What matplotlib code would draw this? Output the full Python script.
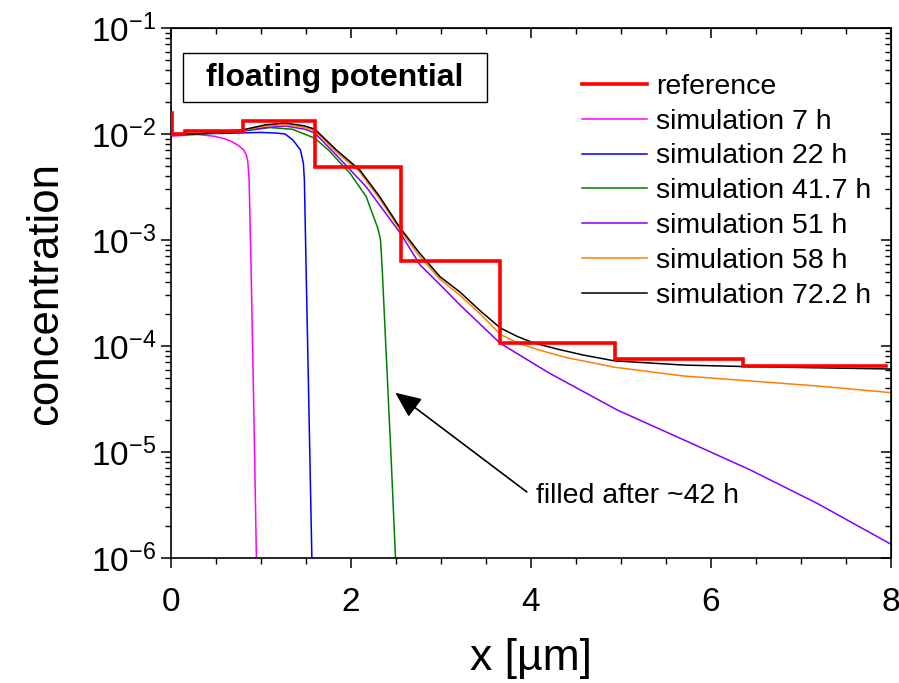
import matplotlib
matplotlib.use("Agg")
import matplotlib.pyplot as plt
import numpy as np
from matplotlib.patches import Rectangle
from matplotlib.ticker import LogLocator, LogFormatterMathtext, MultipleLocator, NullFormatter

plt.rcParams["font.family"] = ["Liberation Sans", "DejaVu Sans"]
plt.rcParams["mathtext.fontset"] = "custom"
plt.rcParams["mathtext.rm"] = "Liberation Sans"
plt.rcParams["mathtext.default"] = "regular"
plt.rcParams["axes.unicode_minus"] = False

# ---------- data ----------

# reference profile: step edges in x [um] and the level on each step
ref_edges = [0.01, 0.16, 0.8, 1.6, 2.556, 3.66, 4.93, 6.36, 7.95]
ref_levels = [1.01e-2, 1.07e-2, 1.33e-2, 4.86e-3, 6.33e-4, 1.06e-4, 7.48e-5, 6.52e-5]
ref_spike = 1.57e-2

x_7h = [0.0, 0.3, 0.49, 0.6, 0.68, 0.75, 0.81, 0.84, 0.855, 0.87, 0.895, 0.922, 0.951]
c_7h = [9.55e-3, 9.9e-3, 9.5e-3, 9.0e-3, 8.45e-3, 7.8e-3, 7.06e-3, 6.3e-3, 5.5e-3,
        3.68e-3, 3.98e-4, 2.51e-5, 1.0e-6]

x_22h = [0.0, 0.5, 1.0, 1.18, 1.27, 1.36, 1.44, 1.473, 1.484, 1.506, 1.53, 1.567]
c_22h = [1.0e-2, 1.01e-2, 1.035e-2, 1.02e-2, 1.0e-2, 8.71e-3, 7.08e-3, 5.28e-3,
         3.68e-3, 3.98e-4, 3.98e-5, 1.0e-6]

x_41h = [0.0, 0.31, 0.79, 1.10, 1.35, 1.60, 1.75, 1.99, 2.17, 2.30, 2.33, 2.35,
         2.40, 2.45, 2.496]
c_41h = [1.0e-2, 1.0e-2, 1.06e-2, 1.15e-2, 1.11e-2, 9.12e-3, 7.08e-3, 4.27e-3,
         2.57e-3, 1.29e-3, 1.0e-3, 5.0e-4, 6.3e-5, 7.9e-6, 1.0e-6]

x_51h = [0.0, 0.31, 0.79, 1.05, 1.27, 1.49, 1.60, 1.84, 2.17, 2.55, 2.77, 3.0,
         3.21, 3.66, 4.21, 4.96, 5.70, 6.44, 7.18, 8.0]
c_51h = [1.0e-2, 1.0e-2, 1.07e-2, 1.15e-2, 1.19e-2, 1.11e-2, 1.02e-2, 6.31e-3,
         3.18e-3, 1.16e-3, 5.81e-4, 3.72e-4, 2.45e-4, 1.06e-4, 5.52e-5, 2.49e-5,
         1.30e-5, 6.76e-6, 3.28e-6, 1.35e-6]

x_58h = [0.0, 0.31, 0.79, 1.05, 1.27, 1.49, 1.60, 1.84, 2.10, 2.32, 2.55, 2.77,
         2.99, 3.21, 3.44, 3.66, 3.85, 4.10, 4.40, 4.93, 5.70, 6.44, 7.18, 8.0]
c_58h = [1.0e-2, 1.0e-2, 1.08e-2, 1.19e-2, 1.23e-2, 1.15e-2, 1.07e-2, 6.76e-3,
         4.37e-3, 2.45e-3, 1.23e-3, 6.92e-4, 4.27e-4, 3.02e-4, 2.0e-4, 1.29e-4,
         1.07e-4, 9.12e-5, 7.76e-5, 6.31e-5, 5.21e-5, 4.68e-5, 4.20e-5, 3.63e-5]

x_72h = [0.0, 0.02, 0.31, 0.79, 1.05, 1.27, 1.49, 1.60, 1.84, 2.10, 2.32, 2.55,
         2.77, 2.99, 3.21, 3.44, 3.66, 3.85, 4.03, 4.30, 4.58, 4.93, 5.70, 6.44, 8.0]
c_72h = [1.80e-2, 1.0e-2, 1.0e-2, 1.09e-2, 1.22e-2, 1.27e-2, 1.19e-2, 1.11e-2,
         7.06e-3, 4.57e-3, 2.57e-3, 1.29e-3, 7.41e-4, 4.51e-4, 3.24e-4, 2.14e-4,
         1.48e-4, 1.23e-4, 1.07e-4, 9.33e-5, 8.22e-5, 7.24e-5, 6.61e-5, 6.38e-5,
         6.07e-5]

sim_series = [
    ("simulation 7 h", x_7h, c_7h, "#ff00ff"),
    ("simulation 22 h", x_22h, c_22h, "#0000ff"),
    ("simulation 41.7 h", x_41h, c_41h, "#008000"),
    ("simulation 51 h", x_51h, c_51h, "#8000ff"),
    ("simulation 58 h", x_58h, c_58h, "#ff8000"),
    ("simulation 72.2 h", x_72h, c_72h, "#000000"),
]

arrow_tip = (2.493, 3.63e-5)
arrow_tail = (3.955, 4.2e-6)
note_pos = (4.06, 3.85e-6)


# ---------- plot ----------

def main():
    fig = plt.figure(figsize=(8.99, 6.83), dpi=100)
    ax = fig.add_axes([0.19, 0.183, 0.801, 0.776])

    # reference step profile, starting with the short spike at the surface
    rx = [ref_edges[0]] + list(np.repeat(ref_edges, 2)[1:-1])
    ry = [ref_spike] + list(np.repeat(ref_levels, 2))
    ax.plot(rx, ry, color="#ff0000", lw=2.6, label="reference", zorder=5,
            solid_joinstyle="miter")

    for lab, xs, cs, col in sim_series:
        ax.plot(xs, cs, color=col, lw=1.1, label=lab)

    ax.set_yscale("log")
    ax.set_xlim(0, 8)
    ax.set_ylim(1e-6, 1e-1)

    ax.xaxis.set_major_locator(MultipleLocator(2))
    ax.xaxis.set_minor_locator(MultipleLocator(0.5))
    ax.yaxis.set_major_locator(LogLocator(base=10, numticks=10))
    ax.yaxis.set_minor_locator(LogLocator(base=10, subs=np.arange(2, 10), numticks=20))
    ax.yaxis.set_major_formatter(LogFormatterMathtext())
    ax.yaxis.set_minor_formatter(NullFormatter())

    ax.tick_params(which="major", direction="out", length=7, width=1.1, labelsize=24)
    ax.tick_params(which="minor", direction="out", length=4, width=1.0)
    ax.tick_params(axis="x", pad=14)
    for sp in ax.spines.values():
        sp.set_linewidth(1.2)

    # mirrored inward ticks on top and right
    top = ax.secondary_xaxis("top")
    top.xaxis.set_major_locator(MultipleLocator(2))
    top.xaxis.set_minor_locator(MultipleLocator(0.5))
    top.tick_params(which="both", direction="in", labeltop=False)
    top.tick_params(which="major", length=7, width=1.1)
    top.tick_params(which="minor", length=4, width=1.0)
    right = ax.secondary_yaxis("right")
    right.yaxis.set_major_locator(LogLocator(base=10, numticks=10))
    right.yaxis.set_minor_locator(LogLocator(base=10, subs=np.arange(2, 10), numticks=20))
    right.yaxis.set_minor_formatter(NullFormatter())
    right.tick_params(which="both", direction="in", labelright=False)
    right.tick_params(which="major", length=7, width=1.1)
    right.tick_params(which="minor", length=4, width=1.0)

    ax.set_xlabel("x [µm]", fontsize=32, labelpad=14)
    ax.set_ylabel("concentration", fontsize=31.5, labelpad=18)

    ax.legend(loc="upper left", bbox_to_anchor=(0.555, 0.935), frameon=False,
              fontsize=20.5, handlelength=2.3, handletextpad=0.3,
              labelspacing=0.31, borderaxespad=0)

    # title box
    ax.add_patch(Rectangle((0.017, 0.86), 0.422, 0.093, transform=ax.transAxes,
                           facecolor="white", edgecolor="black", lw=1.0, zorder=6))
    ax.text(0.228, 0.906, "floating potential", transform=ax.transAxes,
            ha="center", va="center", fontsize=23, fontweight="bold", zorder=7)

    ax.annotate("", xy=arrow_tip, xytext=arrow_tail,
                arrowprops=dict(arrowstyle="-|>,head_length=0.8,head_width=0.35",
                                color="black", lw=1.2, mutation_scale=20,
                                shrinkA=0, shrinkB=0))
    ax.text(*note_pos, "filled after ~42 h", fontsize=20.5, ha="left", va="center")

    fig.savefig("out.png", dpi=100)
    plt.close(fig)


if __name__ == "__main__":
    main()
